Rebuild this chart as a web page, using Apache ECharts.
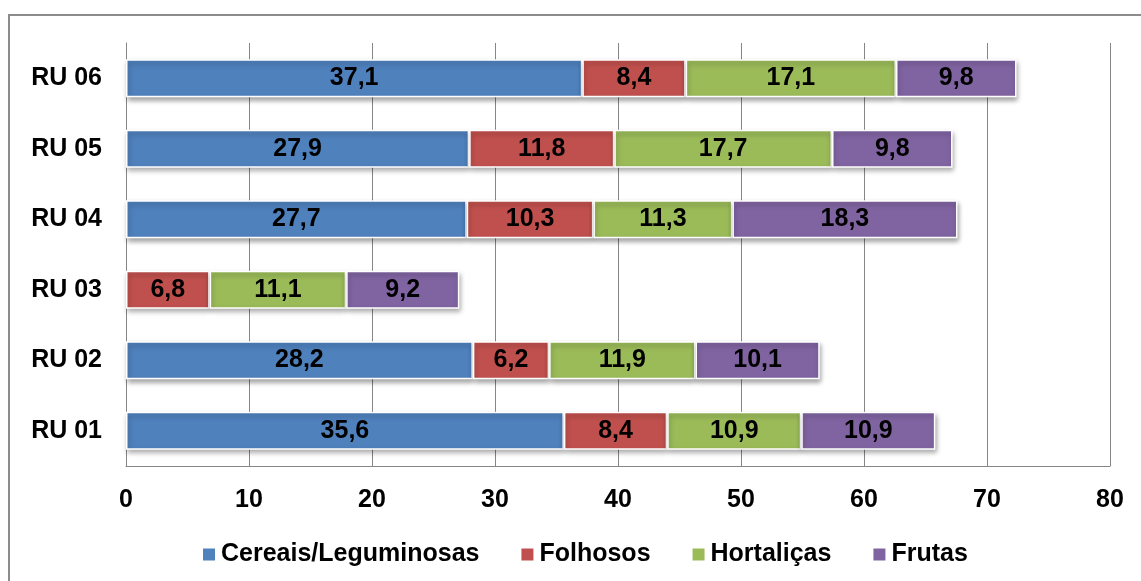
<!DOCTYPE html>
<html><head><meta charset="utf-8">
<script src="https://cdn.jsdelivr.net/npm/echarts@6/dist/echarts.min.js"></script>
<style>html,body{margin:0;padding:0;background:#fff}#c{width:1141px;height:581px}</style>
</head><body><div id="c"></div>
<script>
const categories = ['RU 01','RU 02','RU 03','RU 04','RU 05','RU 06'];
const seriesNames = ['Cereais/Leguminosas','Folhosos','Hortaliças','Frutas'];
const cereais = [35.6, 28.2, null, 27.7, 27.9, 37.1];
const folhosos = [8.4, 6.2, 6.8, 10.3, 11.8, 8.4];
const hortalicas = [10.9, 11.9, 11.1, 11.3, 17.7, 17.1];
const frutas = [10.9, 10.1, 9.2, 18.3, 9.8, 9.8];
const colors = ['#4F81BD','#C0504D','#9BBB59','#8064A2'];
const xTicks = {min:0, max:80, interval:10};

const font = 'Liberation Sans, Arial, sans-serif';
const FS = 25;
const chart = echarts.init(document.getElementById('c'));
const dataSets = [cereais, folhosos, hortalicas, frutas];
chart.setOption({
  animation:false,
  color: colors,
  graphic:[{type:'rect',shape:{x:9,y:15,width:1140,height:575},style:{fill:'none',stroke:'#8c8c8c',lineWidth:2},z:-1}],
  grid:{left:126,right:31,top:43,bottom:115},
  legend:{bottom:9,left:196,itemWidth:14,itemHeight:14,itemGap:40,icon:'rect',
    textStyle:{fontFamily:font,fontWeight:'bold',fontSize:FS,color:'#000'},data:seriesNames},
  xAxis:{type:'value',min:xTicks.min,max:xTicks.max,interval:xTicks.interval,
    axisLine:{show:true,lineStyle:{color:'#868686'}},axisTick:{show:false},
    splitLine:{show:true,lineStyle:{color:'#868686'}},
    axisLabel:{margin:22,fontFamily:font,fontWeight:'bold',fontSize:FS,color:'#000'}},
  yAxis:{type:'category',data:categories,
    axisLine:{show:true,lineStyle:{color:'#868686'}},axisTick:{show:false},
    axisLabel:{margin:24,fontFamily:font,fontWeight:'bold',fontSize:FS,color:'#000'}},
  series: seriesNames.map((n,i)=>({
    name:n,type:'bar',stack:'t',data:dataSets[i],barWidth:38,
    itemStyle:{color:colors[i],borderColor:'#fff',borderWidth:1.5,
      shadowBlur:5,shadowOffsetY:3,shadowOffsetX:1,shadowColor:'rgba(0,0,0,0.35)'},
    label:{show:true,position:'inside',fontFamily:font,fontWeight:'bold',fontSize:FS,color:'#000',
      formatter:p=>p.value==null?'':String(p.value.toFixed(1)).replace('.',',')}
  }))
});
</script></body></html>
